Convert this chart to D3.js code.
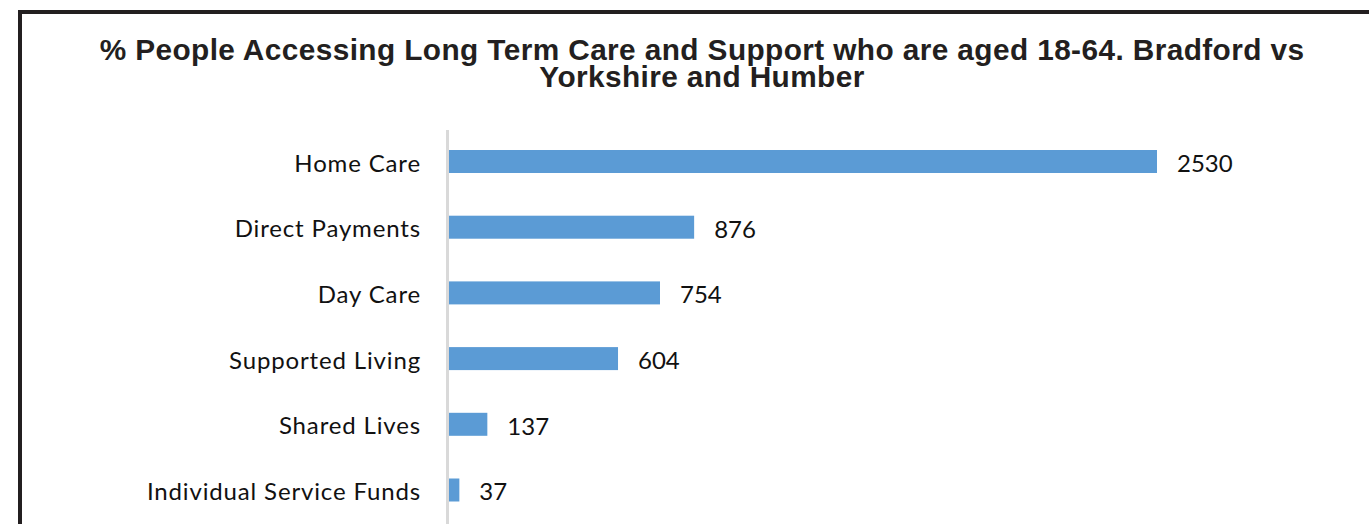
<!DOCTYPE html>
<html>
<head>
<meta charset="utf-8">
<script src="https://cdn.jsdelivr.net/npm/d3@7"></script>
<style>
  html, body { margin: 0; padding: 0; background: #fff; }
  svg { display: block; }
</style>
</head>
<body>
<svg id="chart" width="1369" height="524"></svg>
<script>
// Service types and number of people aged 18-64 accessing each
const categories = ["Home Care", "Direct Payments", "Day Care", "Supported Living", "Shared Lives", "Individual Service Funds"];
const values = [2530, 876, 754, 604, 137, 37];
const titleLines = [
  "% People Accessing Long Term Care and Support who are aged 18-64. Bradford vs",
  "Yorkshire and Humber"
];

const svg = d3.select("#chart");
const W = 1369, H = 524;

svg.append("rect").attr("width", W).attr("height", H).attr("fill", "#fff");

// frame (left and top edges visible within the page)
svg.append("path")
  .attr("d", `M20,${H} V12 H${W}`)
  .attr("fill", "none")
  .attr("stroke", "#231f20")
  .attr("stroke-width", 4);

// title
const title = svg.append("text")
  .attr("text-anchor", "middle")
  .attr("font-family", "'Liberation Sans', Arial, sans-serif")
  .attr("font-weight", "bold")
  .attr("font-size", 29.8)
  .attr("letter-spacing", 0.4)
  .attr("fill", "#231f20");
titleLines.forEach((t, i) => {
  title.append("tspan").attr("x", 702).attr("y", 60 + i * 27).text(t);
});

const x = d3.scaleLinear().domain([0, 3000]).range([449, 449 + 3000 * (708 / 2530)]);
const y = d3.scaleBand().domain(categories).range([107.3, 544.2]).padding(0.65);

// category axis line
svg.append("line")
  .attr("x1", 447.5).attr("x2", 447.5)
  .attr("y1", 130).attr("y2", H)
  .attr("stroke", "#d9d9d9")
  .attr("stroke-width", 3);

const labelFont = "Lato, 'Open Sans', sans-serif";

// bars
svg.append("g").selectAll("rect")
  .data(values)
  .join("rect")
  .attr("x", x(0))
  .attr("y", (d, i) => y(categories[i]))
  .attr("width", d => x(d) - x(0))
  .attr("height", y.bandwidth())
  .attr("fill", "#5b9bd5");

// category labels
svg.append("g").selectAll("text")
  .data(categories)
  .join("text")
  .attr("x", 421)
  .attr("y", d => y(d) + y.bandwidth() / 2 + 10)
  .attr("text-anchor", "end")
  .attr("font-family", labelFont)
  .attr("font-size", 24)
  .attr("letter-spacing", 0.85)
  .attr("fill", "#111")
  .text(d => d);

// value labels
svg.append("g").selectAll("text")
  .data(values)
  .join("text")
  .attr("x", d => x(d) + 20)
  .attr("y", (d, i) => y(categories[i]) + y.bandwidth() / 2 + 10.5)
  .attr("font-family", labelFont)
  .attr("font-size", 24)
  .attr("fill", "#111")
  .text(d => d);
</script>
</body>
</html>
